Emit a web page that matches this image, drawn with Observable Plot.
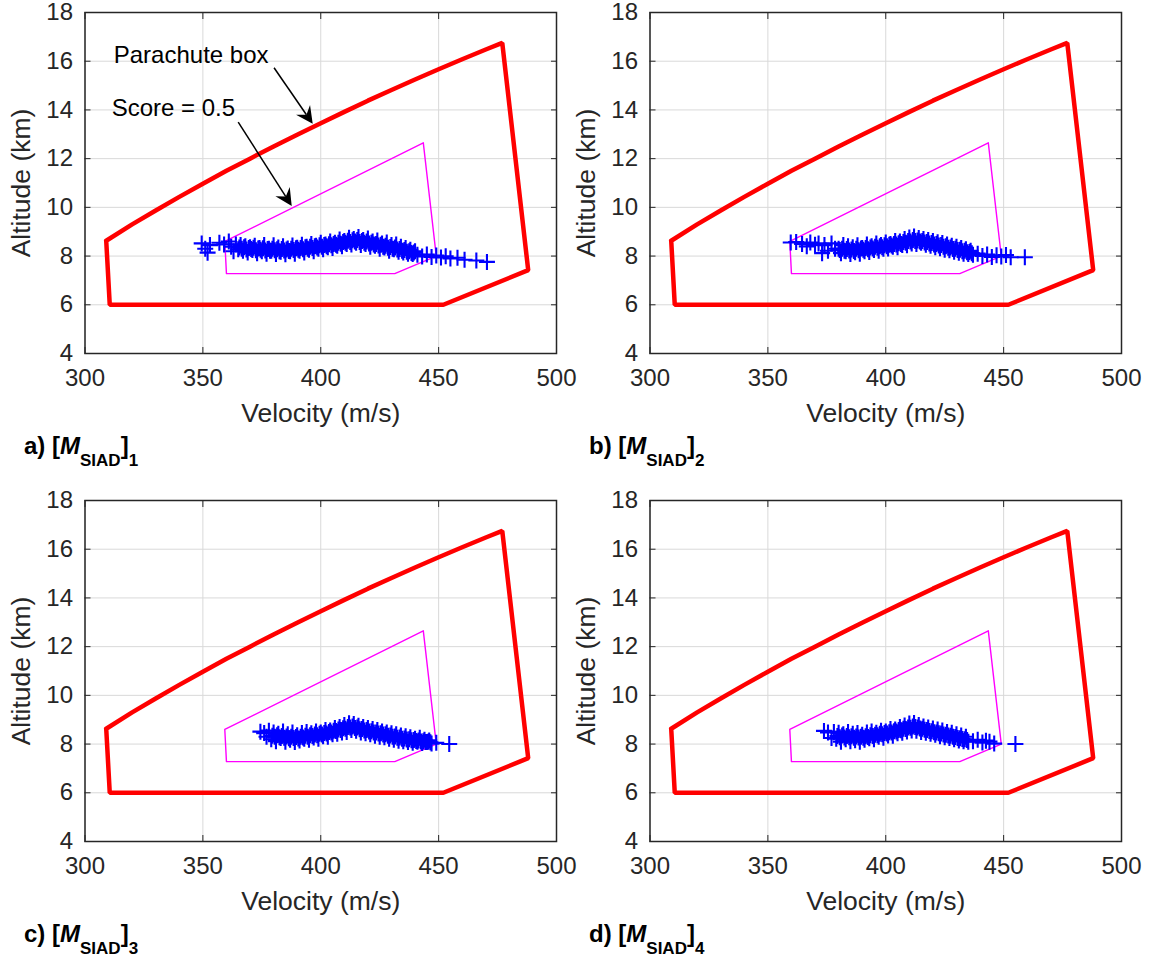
<!DOCTYPE html>
<html><head><meta charset="utf-8">
<script src="https://cdn.jsdelivr.net/npm/d3@7"></script>
<script src="https://cdn.jsdelivr.net/npm/@observablehq/plot@0.6"></script>
<style>
body{margin:0;background:#fff;}
#fig{position:relative;width:1151px;height:964px;font-family:"Liberation Sans",Arial,Helvetica,sans-serif;color:#000;background:#fff;}
.panel{position:absolute;}
.lab{position:absolute;font-size:24px;font-weight:bold;line-height:24px;white-space:nowrap;}
.lab sub{font-size:17px;vertical-align:-12px;line-height:0;}
</style></head><body><div id="fig"></div>
<script>
// Axes
const xTicks = [300, 350, 400, 450, 500];
const yTicks = [4, 6, 8, 10, 12, 14, 16, 18];
// Parachute box (red)
const boxV = [309, 310.5, 452, 488, 477, 470, 460, 450, 440, 430, 420, 410, 400, 390, 380, 370, 360, 350, 340, 330, 320, 309];
const boxH = [8.63, 6.0, 6.0, 7.42, 16.75, 16.48, 16.08, 15.67, 15.25, 14.82, 14.38, 13.92, 13.45, 12.98, 12.5, 12.0, 11.5, 10.97, 10.43, 9.87, 9.3, 8.63];
// Score = 0.5 contour (magenta)
const scoreV = [359.3, 360, 431.4, 449, 443.5, 359.3];
const scoreH = [8.6, 7.28, 7.28, 8.0, 12.65, 8.6];
// Annotations (panel a)
const noteText = ["Parachute box", "Score = 0.5"];
const noteV = [312.2, 311.3];
const noteH = [16.23, 14.05];
const arrowV1 = [380.4, 365.2], arrowH1 = [15.71, 13.48];
const arrowV2 = [396.8, 387.9], arrowH2 = [13.41, 10.04];
// Panel labels
const panelLetters = ["a)", "b)", "c)", "d)"];
const panelIndex = ["1", "2", "3", "4"];

// Blue samples, panel a
const runV1 = [349.5,351,352,353,357,359,361,362,363,364,
365,366,367,368,369,370,371,372,373,374,375,376,377,378,379,380,381,382,383,384,385,386,387,388,389,390,
391,392,393,394,395,396,397,398,399,400,401,402,403,404,405,406,407,408,409,410,411,412,413,414,415,416,
417,418,419,420,421,422,423,424,425,426,427,428,429,430,431,432,433,434,435,436,437,438,439,440,
441,443,445,447,449,451,453,455,458,461,466,470.5,
365.5,366.5,367.5,368.5,369.5,370.5,371.5,372.5,373.5,374.5,375.5,376.5,377.5,378.5,379.5,380.5,381.5,382.5,383.5,384.5,
385.5,386.5,387.5,388.5,389.5,390.5,391.5,392.5,393.5,394.5,395.5,396.5,397.5,398.5,399.5,400.5,401.5,402.5,403.5,404.5,
405.5,406.5,407.5,408.5,409.5,410.5,411.5,412.5,413.5,414.5,415.5,416.5,417.5,418.5,419.5,420.5,421.5,422.5,423.5,424.5,
425.5,426.5,427.5,428.5,429.5,430.5,431.5,432.5,433.5,434.5,435.5,436.5,437.5,438.5,439.5];
const runH1 = [8.52,8.30,8.14,8.45,8.55,8.48,8.60,8.38,8.20,8.48,
8.28,8.45,8.22,8.40,8.15,8.36,8.25,8.42,8.12,8.33,8.20,8.45,8.10,8.30,8.22,8.44,8.08,8.35,8.18,8.40,8.07,8.31,8.20,8.43,8.10,8.34,
8.22,8.46,8.15,8.38,8.26,8.50,8.20,8.42,8.30,8.55,8.28,8.48,8.36,8.60,8.33,8.55,8.42,8.68,8.40,8.62,8.50,8.75,8.48,8.70,8.55,8.78,
8.45,8.66,8.50,8.72,8.38,8.60,8.42,8.64,8.30,8.52,8.35,8.56,8.22,8.45,8.28,8.48,8.18,8.38,8.15,8.33,8.10,8.26,8.08,8.20,
8.05,7.98,8.06,7.96,8.02,7.94,7.99,7.90,7.93,7.85,7.82,7.76,
8.35,8.30,8.36,8.27,8.33,8.29,8.34,8.24,8.31,8.26,8.32,8.23,8.29,8.22,8.30,8.24,8.28,8.20,8.29,8.23,
8.27,8.21,8.30,8.25,8.32,8.26,8.33,8.28,8.36,8.30,8.38,8.33,8.40,8.35,8.44,8.38,8.45,8.40,8.49,8.44,
8.50,8.46,8.55,8.51,8.58,8.55,8.63,8.58,8.65,8.60,8.66,8.58,8.62,8.55,8.60,8.52,8.55,8.47,8.50,8.43,
8.46,8.38,8.42,8.34,8.37,8.30,8.35,8.27,8.29,8.22,8.25,8.18,8.20,8.13,8.15];
// Blue samples, panel b
const runV2 = [359.7,362,364.5,366.5,368,370,371.5,373,374,375.5,377,378.5,
380,381,382,383,384,385,386,387,388,389,390,391,392,393,394,395,396,397,398,399,400,401,402,403,404,405,406,407,408,
409,410,411,412,413,414,415,416,417,418,419,420,421,422,423,424,425,426,427,428,429,430,431,432,433,434,435,436,437,
439,441,443,445,447,449,451,453,459,
380.5,381.5,382.5,383.5,384.5,385.5,386.5,387.5,388.5,389.5,390.5,391.5,392.5,393.5,394.5,395.5,396.5,397.5,398.5,399.5,
400.5,401.5,402.5,403.5,404.5,405.5,406.5,407.5,408.5,409.5,410.5,411.5,412.5,413.5,414.5,415.5,416.5,417.5,418.5,419.5,
420.5,421.5,422.5,423.5,424.5,425.5,426.5,427.5,428.5,429.5,430.5,431.5,432.5,433.5,434.5,435.5,436.5];
const runH2 = [8.56,8.58,8.50,8.40,8.56,8.46,8.52,8.12,8.45,8.22,8.52,8.30,
8.30,8.12,8.45,8.20,8.40,8.08,8.36,8.16,8.44,8.10,8.33,8.20,8.47,8.17,8.40,8.25,8.52,8.22,8.45,8.30,8.56,8.31,8.50,8.38,8.62,8.36,8.60,8.45,8.70,
8.44,8.76,8.52,8.80,8.50,8.74,8.55,8.70,8.46,8.66,8.42,8.62,8.36,8.57,8.32,8.54,8.26,8.48,8.24,8.42,8.18,8.38,8.14,8.33,8.10,8.28,8.08,8.22,8.05,
8.10,8.00,8.06,7.96,8.03,7.98,8.04,7.95,7.95,
8.25,8.30,8.22,8.29,8.23,8.27,8.21,8.30,8.24,8.31,8.26,8.33,8.28,8.35,8.31,8.38,8.34,8.40,8.36,8.44,
8.40,8.46,8.43,8.50,8.47,8.53,8.50,8.58,8.55,8.62,8.60,8.66,8.62,8.64,8.60,8.62,8.56,8.58,8.52,8.54,
8.48,8.50,8.43,8.45,8.38,8.40,8.34,8.35,8.29,8.30,8.25,8.26,8.20,8.22,8.16,8.17,8.12];
// Blue samples, panel c
const runV3 = [374.4,376,377,378,
379,380,381,382,383,384,385,386,387,388,389,390,391,392,393,394,395,396,397,398,399,400,401,402,403,404,405,406,407,408,409,410,
411,412,413,414,415,416,417,418,419,420,421,422,423,424,425,426,427,428,429,430,431,432,433,434,435,436,437,438,439,440,441,442,443,444,445,446,447,
449,454.5,
379.5,380.5,381.5,382.5,383.5,384.5,385.5,386.5,387.5,388.5,389.5,390.5,391.5,392.5,393.5,394.5,395.5,396.5,397.5,398.5,
399.5,400.5,401.5,402.5,403.5,404.5,405.5,406.5,407.5,408.5,409.5,410.5,411.5,412.5,413.5,414.5,415.5,416.5,417.5,418.5,
419.5,420.5,421.5,422.5,423.5,424.5,425.5,426.5,427.5,428.5,429.5,430.5,431.5,432.5,433.5,434.5,435.5,436.5,437.5,438.5,
439.5,440.5,441.5,442.5,443.5,444.5,445.5,446.5];
const runH3 = [8.51,8.45,8.30,8.55,
8.20,8.48,8.12,8.42,8.25,8.52,8.10,8.40,8.18,8.47,8.08,8.36,8.15,8.45,8.22,8.50,8.18,8.44,8.27,8.52,8.22,8.48,8.32,8.58,8.30,8.56,8.40,8.66,8.42,8.70,8.48,8.78,
8.50,8.85,8.58,8.82,8.55,8.75,8.48,8.70,8.44,8.66,8.40,8.62,8.34,8.58,8.30,8.52,8.28,8.48,8.22,8.44,8.18,8.40,8.14,8.35,8.12,8.32,8.08,8.28,8.05,8.22,8.10,8.26,8.04,8.18,8.08,8.15,8.02,
8.05,8.00,
8.34,8.30,8.36,8.28,8.33,8.26,8.31,8.24,8.30,8.25,8.29,8.23,8.30,8.27,8.34,8.30,8.36,8.33,8.39,8.36,
8.42,8.39,8.45,8.43,8.50,8.48,8.55,8.54,8.60,8.58,8.65,8.63,8.70,8.68,8.72,8.66,8.68,8.61,8.62,8.56,
8.58,8.52,8.53,8.47,8.48,8.43,8.44,8.39,8.40,8.34,8.35,8.30,8.31,8.26,8.27,8.22,8.23,8.19,8.20,8.16,
8.17,8.13,8.15,8.11,8.12,8.09,8.10,8.07];
// Blue samples, panel d
const runV4 = [373.8,375.5,377,378,
379,380,381,382,383,384,385,386,387,388,389,390,391,392,393,394,395,396,397,398,399,400,401,402,403,404,405,406,407,408,409,410,
411,412,413,414,415,416,417,418,419,420,421,422,423,424,425,426,427,428,429,430,431,432,433,434,435,
437,439,441,442.5,444,446,455,
379.5,380.5,381.5,382.5,383.5,384.5,385.5,386.5,387.5,388.5,389.5,390.5,391.5,392.5,393.5,394.5,395.5,396.5,397.5,398.5,
399.5,400.5,401.5,402.5,403.5,404.5,405.5,406.5,407.5,408.5,409.5,410.5,411.5,412.5,413.5,414.5,415.5,416.5,417.5,418.5,
419.5,420.5,421.5,422.5,423.5,424.5,425.5,426.5,427.5,428.5,429.5,430.5,431.5,432.5,433.5,434.5];
const runH4 = [8.54,8.48,8.25,8.50,
8.22,8.46,8.10,8.40,8.20,8.50,8.12,8.42,8.16,8.45,8.10,8.38,8.18,8.47,8.24,8.52,8.20,8.46,8.30,8.55,8.26,8.52,8.35,8.62,8.34,8.60,8.44,8.70,8.46,8.76,8.52,8.84,
8.56,8.86,8.55,8.78,8.50,8.72,8.46,8.68,8.42,8.64,8.38,8.60,8.32,8.56,8.28,8.50,8.25,8.46,8.20,8.40,8.15,8.35,8.12,8.30,8.10,
8.12,8.18,8.06,8.14,8.10,8.02,8.00,
8.33,8.28,8.35,8.27,8.33,8.28,8.32,8.26,8.31,8.27,8.30,8.26,8.32,8.29,8.36,8.33,8.38,8.36,8.42,8.40,
8.45,8.43,8.49,8.47,8.53,8.52,8.58,8.57,8.63,8.62,8.68,8.67,8.72,8.70,8.68,8.64,8.63,8.59,8.58,8.54,
8.53,8.49,8.48,8.44,8.43,8.39,8.38,8.35,8.34,8.30,8.29,8.25,8.24,8.21,8.20,8.17];

const runsV = [runV1, runV2, runV3, runV4];
const runsH = [runH1, runH2, runH3, runH4];

const plus = {draw(ctx, size) { const r = Math.sqrt(size / Math.PI); ctx.moveTo(-r, 0); ctx.lineTo(r, 0); ctx.moveTo(0, -r); ctx.lineTo(0, r); }};

const box = boxV.map((v, i) => ({v, h: boxH[i]}));
const score = scoreV.map((v, i) => ({v, h: scoreH[i]}));
const notes = noteText.map((t, i) => ({t, v: noteV[i], h: noteH[i]}));

const arrowMark = (index, scales) => {
  const g = d3.create("svg:g");
  arrowV1.forEach((_, i) => {
    const x1 = scales.x(arrowV1[i]), y1 = scales.y(arrowH1[i]);
    const x2 = scales.x(arrowV2[i]), y2 = scales.y(arrowH2[i]);
    const dx = x2 - x1, dy = y2 - y1, len = Math.hypot(dx, dy);
    const ux = dx / len, uy = dy / len, px = -uy, py = ux;
    const L = 17, W = 8.5, N = 11;
    const bx = x2 - ux * L, by = y2 - uy * L, nx = x2 - ux * N, ny = y2 - uy * N;
    g.append("line").attr("x1", x1).attr("y1", y1).attr("x2", nx).attr("y2", ny)
      .attr("stroke", "#000").attr("stroke-width", 1.5);
    g.append("path").attr("d", `M${x2},${y2}L${bx + px * W},${by + py * W}L${nx},${ny}L${bx - px * W},${by - py * W}Z`)
      .attr("fill", "#000");
  });
  return g.node();
};

const pos = [[0, 0], [565, 0], [0, 488], [565, 488]];
const fig = document.getElementById("fig");
const gridStyle = {stroke: "#d9d9d9", strokeOpacity: 1, strokeWidth: 1};

for (let p = 0; p < 4; p++) {
  const pts = runsV[p].map((v, i) => ({v, h: runsH[p][i]}));
  const marks = [
    Plot.gridX(xTicks, gridStyle),
    Plot.gridY(yTicks, gridStyle),
    Plot.line(score, {x: "v", y: "h", stroke: "#ff00ff", strokeWidth: 1.4}),
    Plot.line(box, {x: "v", y: "h", stroke: "#ff0000", strokeWidth: 4.5, strokeLinejoin: "miter"}),
    Plot.dot(pts, {x: "v", y: "h", symbol: plus, r: 8, fill: "none", stroke: "#0000ff", strokeWidth: 2.1}),
    Plot.frame({stroke: "#262626", strokeWidth: 1.5}),
    Plot.axisX(xTicks, {anchor: "bottom", tickSize: 0, tickPadding: 15, fontSize: 24, label: null}),
    Plot.axisX(xTicks, {anchor: "bottom", tickSize: -6, tickFormat: () => "", fontSize: 26.5, label: "Velocity (m/s)", labelAnchor: "center", labelOffset: 68, labelArrow: "none"}),
    Plot.axisX(xTicks, {anchor: "top", tickSize: -6, tickFormat: () => "", label: null}),
    Plot.axisY(yTicks, {anchor: "left", tickSize: 0, tickPadding: 12, fontSize: 24, label: null}),
    Plot.axisY(yTicks, {anchor: "left", tickSize: -6, tickFormat: () => "", fontSize: 26.5, label: "Altitude (km)", labelAnchor: "center", labelOffset: 74, labelArrow: "none"}),
    Plot.axisY(yTicks, {anchor: "right", tickSize: -6, tickFormat: () => "", label: null})
  ];
  if (p === 0) {
    marks.push(Plot.text(notes, {x: "v", y: "h", text: "t", textAnchor: "start", fontSize: 24, fill: "#000"}));
    marks.push(arrowMark);
  }
  const chart = Plot.plot({
    width: 575, height: 430,
    marginLeft: 84.5, marginRight: 19, marginTop: 12, marginBottom: 77,
    x: {domain: [300, 500]},
    y: {domain: [4, 18]},
    style: {fontFamily: '"Liberation Sans", Arial, Helvetica, sans-serif', color: "#262626", background: "none", overflow: "visible"},
    marks
  });
  const div = document.createElement("div");
  div.className = "panel";
  div.style.left = pos[p][0] + "px";
  div.style.top = pos[p][1] + "px";
  div.appendChild(chart);
  fig.appendChild(div);

  const lab = document.createElement("div");
  lab.className = "lab";
  lab.style.left = (pos[p][0] + 24) + "px";
  lab.style.top = (pos[p][1] + 434) + "px";
  lab.innerHTML = `${panelLetters[p]} [<i>M</i><sub>SIAD</sub>]<sub>${panelIndex[p]}</sub>`;
  fig.appendChild(lab);
}
</script></body></html>
